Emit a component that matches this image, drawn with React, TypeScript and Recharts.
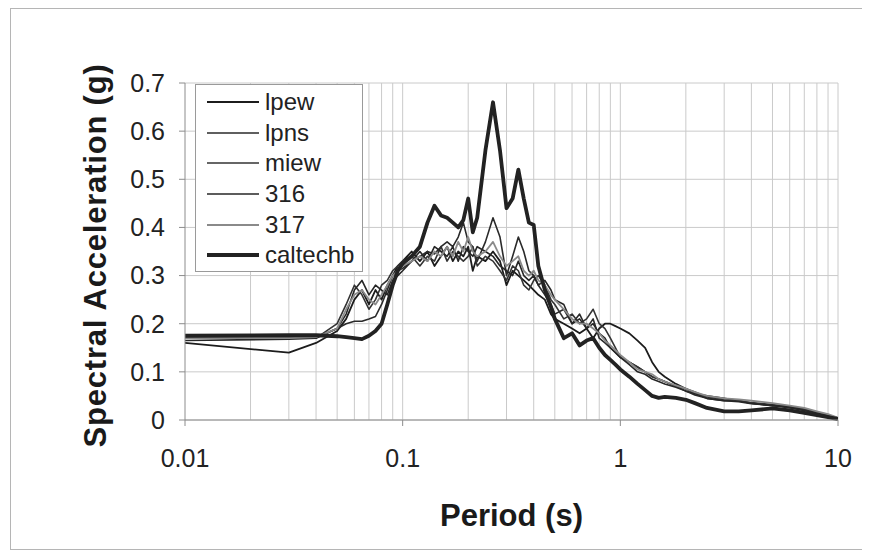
import { LineChart, Line, XAxis, YAxis, CartesianGrid, ReferenceLine, Legend, Label } from "recharts";

const FONT = "'Liberation Sans', Arial, sans-serif";

// period (s)
const periods = [
  0.01, 0.03, 0.04, 0.05,
  0.055, 0.06, 0.065, 0.07, 0.075, 0.08, 0.085, 0.09, 0.095, 0.1,
  0.11, 0.12, 0.13, 0.14, 0.15, 0.16, 0.17, 0.18, 0.19, 0.2, 0.21, 0.22,
  0.24, 0.26, 0.28, 0.3, 0.32, 0.34, 0.36, 0.38, 0.4, 0.42,
  0.45, 0.48, 0.5, 0.55, 0.6, 0.65, 0.7, 0.75, 0.8, 0.85, 0.9, 0.95, 1.0,
  1.1, 1.2, 1.3, 1.4, 1.5, 1.6, 1.8, 2.0, 2.2, 2.5,
  3.0, 3.5, 4.0, 5.0, 6.0, 7.0, 8.0, 9.0, 10,
];

// spectral acceleration (g)
const lpew = [
  0.16, 0.14, 0.16, 0.185,
  0.21, 0.25, 0.27, 0.24, 0.27, 0.25, 0.28, 0.3, 0.32, 0.33,
  0.35, 0.33, 0.35, 0.32, 0.34, 0.36, 0.33, 0.35, 0.34, 0.36, 0.31, 0.34,
  0.33, 0.35, 0.33, 0.28, 0.31, 0.3, 0.29, 0.28, 0.27, 0.26,
  0.25, 0.22, 0.21, 0.2, 0.19, 0.18, 0.19, 0.17, 0.19, 0.2, 0.2, 0.195, 0.19,
  0.18, 0.165, 0.15, 0.12, 0.1, 0.09, 0.075, 0.065, 0.055, 0.05,
  0.045, 0.04, 0.035, 0.03, 0.028, 0.022, 0.016, 0.01, 0.003,
];
const lpns = [
  0.17, 0.17, 0.172, 0.19,
  0.2, 0.205, 0.205, 0.21, 0.215, 0.24, 0.27, 0.3, 0.31, 0.315,
  0.33, 0.34, 0.35, 0.345, 0.36, 0.37, 0.36, 0.38, 0.41, 0.37, 0.36, 0.33,
  0.37, 0.42, 0.38, 0.3, 0.34, 0.38, 0.35, 0.31, 0.3, 0.28,
  0.26, 0.24, 0.22, 0.23, 0.2, 0.22, 0.19, 0.21, 0.17, 0.16, 0.15, 0.14, 0.13,
  0.12, 0.11, 0.1, 0.09, 0.085, 0.08, 0.07, 0.06, 0.055, 0.045,
  0.04, 0.04, 0.035, 0.03, 0.025, 0.02, 0.015, 0.01, 0.004,
];
const miew = [
  0.172, 0.17, 0.17, 0.2,
  0.24, 0.28, 0.26, 0.23, 0.25, 0.28, 0.29, 0.31, 0.32, 0.33,
  0.34, 0.32, 0.34, 0.33, 0.36, 0.33, 0.35, 0.34, 0.33, 0.34, 0.36, 0.32,
  0.34, 0.33, 0.31, 0.29, 0.32, 0.31, 0.28, 0.27, 0.29, 0.3,
  0.28, 0.25, 0.24, 0.21, 0.22, 0.2, 0.21, 0.23, 0.2, 0.19, 0.17, 0.15, 0.13,
  0.12, 0.11, 0.1, 0.09, 0.085, 0.08, 0.07, 0.065, 0.058, 0.048,
  0.042, 0.04, 0.036, 0.032, 0.028, 0.022, 0.016, 0.01, 0.004,
];
const s316 = [
  0.165, 0.168, 0.17, 0.19,
  0.22, 0.27, 0.29, 0.26, 0.28, 0.27, 0.26, 0.29, 0.3, 0.31,
  0.33, 0.35, 0.33, 0.36, 0.35, 0.34, 0.36, 0.33, 0.36, 0.35, 0.34, 0.36,
  0.35, 0.34, 0.32, 0.31, 0.3, 0.33, 0.3, 0.29, 0.3, 0.28,
  0.29, 0.27, 0.25, 0.24, 0.2, 0.21, 0.19, 0.2, 0.18, 0.17, 0.15, 0.14, 0.13,
  0.115, 0.1, 0.095, 0.085, 0.08, 0.075, 0.068, 0.06, 0.052, 0.045,
  0.04, 0.038, 0.034, 0.03, 0.027, 0.02, 0.014, 0.008, 0.003,
];
const s317 = [
  0.17, 0.17, 0.172, 0.19,
  0.23, 0.26, 0.27, 0.25, 0.24, 0.26, 0.28, 0.3, 0.31, 0.32,
  0.33, 0.34, 0.33, 0.35, 0.34, 0.36, 0.34, 0.37, 0.35, 0.38, 0.35, 0.34,
  0.35, 0.37, 0.34, 0.32, 0.33, 0.34, 0.31, 0.3, 0.31, 0.29,
  0.28, 0.26, 0.25, 0.23, 0.21, 0.2, 0.2, 0.19, 0.18, 0.165, 0.155, 0.145, 0.135,
  0.12, 0.105, 0.1, 0.095, 0.085, 0.08, 0.072, 0.065, 0.058, 0.05,
  0.045, 0.043, 0.04, 0.035, 0.03, 0.025, 0.018, 0.012, 0.005,
];
const caltechb = [
  0.175, 0.176, 0.176, 0.174,
  0.172, 0.17, 0.168, 0.175, 0.185, 0.2, 0.24, 0.28, 0.31, 0.325,
  0.34, 0.36, 0.41, 0.445, 0.425, 0.42, 0.41, 0.4, 0.415, 0.46, 0.39, 0.42,
  0.56, 0.66, 0.56, 0.44, 0.46, 0.52, 0.46, 0.41, 0.405, 0.32,
  0.27, 0.235, 0.21, 0.17, 0.18, 0.155, 0.165, 0.17, 0.15, 0.135, 0.125, 0.115, 0.105,
  0.09, 0.075, 0.062, 0.05, 0.046, 0.048, 0.046, 0.042, 0.035, 0.025,
  0.018, 0.018, 0.02, 0.024, 0.02, 0.015, 0.01, 0.006, 0.002,
];

const xTicks = [0.01, 0.1, 1, 10];
const yTicks = [0, 0.1, 0.2, 0.3, 0.4, 0.5, 0.6, 0.7];
const gridPeriods = [
  0.02, 0.03, 0.04, 0.05, 0.06, 0.07, 0.08, 0.09, 0.1,
  0.2, 0.3, 0.4, 0.5, 0.6, 0.7, 0.8, 0.9, 1,
  2, 3, 4, 5, 6, 7, 8, 9, 10,
];

const series = [
  { key: "lpew", values: lpew, color: "#1c1c1c", width: 1.8 },
  { key: "lpns", values: lpns, color: "#2a2a2a", width: 1.6 },
  { key: "miew", values: miew, color: "#333333", width: 1.6 },
  { key: "316", values: s316, color: "#262626", width: 1.6 },
  { key: "317", values: s317, color: "#8a8a8a", width: 1.8 },
  { key: "caltechb", values: caltechb, color: "#222222", width: 3.8 },
];

const data = periods.map((t, i) => {
  const row: Record<string, number> = { t };
  series.forEach((s) => (row[s.key] = s.values[i]));
  return row;
});

function LegendBox() {
  return (
    <div style={{ width: 168, height: 188, boxSizing: "border-box", border: "1px solid #9a9a9a", background: "#fff", paddingTop: 2, fontFamily: FONT }}>
      {series.map((s) => (
        <div key={s.key} style={{ height: 30.6, display: "flex", alignItems: "center" }}>
          <svg width={64} height={10} style={{ display: "block" }}>
            <line x1={11} x2={63} y1={5} y2={5} stroke={s.color} strokeWidth={s.width} />
          </svg>
          <span style={{ marginLeft: 5, fontSize: 24, color: "#222", lineHeight: "24px" }}>{s.key}</span>
        </div>
      ))}
    </div>
  );
}

export default function App() {
  const tickStyle = { fontSize: 25, fill: "#222", fontFamily: FONT };
  return (
    <div style={{ marginLeft: 2, width: 856, height: 540, border: "1px solid #b5b5b5", background: "#fff", position: "relative" }}>
      <LineChart width={856} height={540} data={data} margin={{ top: 74, right: 29, left: 0, bottom: 0 }}>
        <CartesianGrid vertical={false} stroke="#cacaca" />
        {gridPeriods.map((p) => (
          <ReferenceLine key={p} x={p} stroke="#cacaca" strokeWidth={1} />
        ))}
        <XAxis
          dataKey="t" type="number" scale="log" domain={[0.01, 10]} allowDataOverflow
          ticks={xTicks} interval={0} height={129} tickSize={6} tickMargin={23}
          stroke="#8c8c8c" tick={tickStyle} tickFormatter={(v) => String(v)}
        >
          <Label
            content={(p: any) => {
              const vb = p.viewBox || { x: 174, y: 411, width: 653 };
              const cx = vb.x + vb.width / 2;
              const cy = vb.y + 95;
              return (
                <text x={cx} y={cy} textAnchor="middle" dominantBaseline="central"
                  style={{ fontSize: 31, fontWeight: 700, fontFamily: FONT, fill: "#1a1a1a" }}>
                  Period (s)
                </text>
              );
            }}
          />
        </XAxis>
        <YAxis
          type="number" domain={[0, 0.7]} ticks={yTicks} interval={0} width={174}
          tickSize={6} tickMargin={14} stroke="#8c8c8c" tick={tickStyle}
          tickFormatter={(v) => (v === 0 ? "0" : Number(v).toFixed(1))}
        >
          <Label
            content={(p: any) => {
              const vb = p.viewBox || { x: 0, y: 74, height: 337 };
              const x = 84;
              const cy = vb.y + vb.height / 2 + 4;
              return (
                <text x={x} y={cy} transform={`rotate(-90 ${x} ${cy})`} textAnchor="middle" dominantBaseline="central"
                  style={{ fontSize: 31, fontWeight: 700, fontFamily: FONT, fill: "#1a1a1a", letterSpacing: 0.8 }}>
                  Spectral Acceleration (g)
                </text>
              );
            }}
          />
        </YAxis>
        {series.map((s) => (
          <Line
            key={s.key} dataKey={s.key} name={s.key} type="linear" stroke={s.color}
            strokeWidth={s.width} strokeLinejoin="round" dot={false} activeDot={false}
            isAnimationActive={false}
          />
        ))}
        <Legend
          layout="vertical" align="center" verticalAlign="middle"
          wrapperStyle={{ left: 184, top: 75, width: 168, height: 188 }}
          content={() => <LegendBox />}
        />
      </LineChart>
    </div>
  );
}
